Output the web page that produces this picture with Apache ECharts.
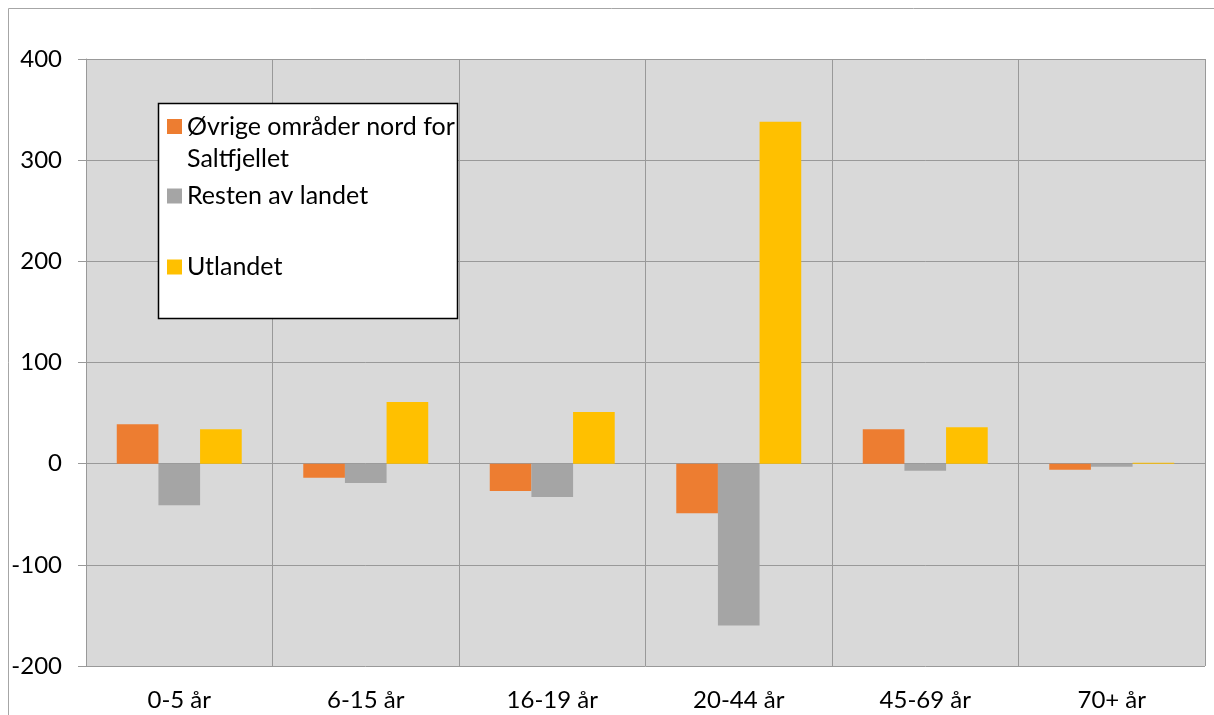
<!DOCTYPE html>
<html><head><meta charset="utf-8">
<script src="https://cdn.jsdelivr.net/npm/echarts@6/dist/echarts.min.js"></script>
<style>html,body{margin:0;padding:0;background:#fff}#c{width:1214px;height:715px}</style>
</head><body><div id="c"></div>
<script>
const categories = ['0-5 år','6-15 år','16-19 år','20-44 år','45-69 år','70+ år'];
const seriesNames = ['Øvrige områder nord for Saltfjellet','Resten av landet','Utlandet'];
const ovrige = [39, -14, -27, -49, 34, -6];
const resten = [-41, -19, -33, -160, -7, -3];
const utlandet = [34, 61, 51, 338, 36, 1];
const yTicks = {min: -200, max: 400, interval: 100};
const colors = ['#ED7D31', '#A5A5A5', '#FFC000'];
const F = 'Lato';

const chart = echarts.init(document.getElementById('c'));
const gridLine = {color: '#999999', width: 1};
chart.setOption({
  animation: false,
  textStyle: {fontFamily: F},
  graphic: [
    {type: 'rect', z: 0, shape: {x: 8.5, y: 8.5, width: 1220, height: 720}, style: {fill: 'none', stroke: '#a6a6a6', lineWidth: 1}},
    {type: 'rect', z: 100, shape: {x: 158.5, y: 103.5, width: 299, height: 215}, style: {fill: '#ffffff', stroke: '#000000', lineWidth: 1.5}}
  ],
  legend: [
    {data: [seriesNames[0]], left: 167, top: 78.5, z: 200, padding: 0, orient: 'vertical', icon: 'rect', itemWidth: 15, itemHeight: 15,
     formatter: () => '\nØvrige områder nord for\nSaltfjellet',
     textStyle: {fontFamily: F, fontSize: 25, color: '#000', lineHeight: 32}},
    {data: [seriesNames[1]], left: 167, top: 183.5, z: 200, padding: 0, icon: 'rect', itemWidth: 15, itemHeight: 15,
     textStyle: {fontFamily: F, fontSize: 25, color: '#000', lineHeight: 24}},
    {data: [seriesNames[2]], left: 167, top: 254.5, z: 200, padding: 0, icon: 'rect', itemWidth: 15, itemHeight: 15,
     textStyle: {fontFamily: F, fontSize: 25, color: '#000', lineHeight: 24}}
  ],
  grid: {left: 86, right: 9, top: 59, bottom: 49, show: true, backgroundColor: '#d9d9d9', borderWidth: 0},
  xAxis: {
    type: 'category', data: categories,
    axisLine: {show: false}, axisTick: {show: false},
    splitLine: {show: true, lineStyle: gridLine},
    axisLabel: {fontFamily: F, fontSize: 24, color: '#000', margin: 22}
  },
  yAxis: {
    type: 'value', min: yTicks.min, max: yTicks.max, interval: yTicks.interval,
    axisLine: {show: true, lineStyle: gridLine},
    axisTick: {show: true, length: 8, lineStyle: gridLine},
    splitLine: {show: true, lineStyle: gridLine},
    axisLabel: {fontFamily: F, fontSize: 24, color: '#000', margin: 24}
  },
  series: [
    {name: seriesNames[0], type: 'bar', data: ovrige, itemStyle: {color: colors[0]}, barGap: '0%', barCategoryGap: '33%'},
    {name: seriesNames[1], type: 'bar', data: resten, itemStyle: {color: colors[1]}, barGap: '0%', barCategoryGap: '33%'},
    {name: seriesNames[2], type: 'bar', data: utlandet, itemStyle: {color: colors[2]}, barGap: '0%', barCategoryGap: '33%'}
  ]
});
</script></body></html>
